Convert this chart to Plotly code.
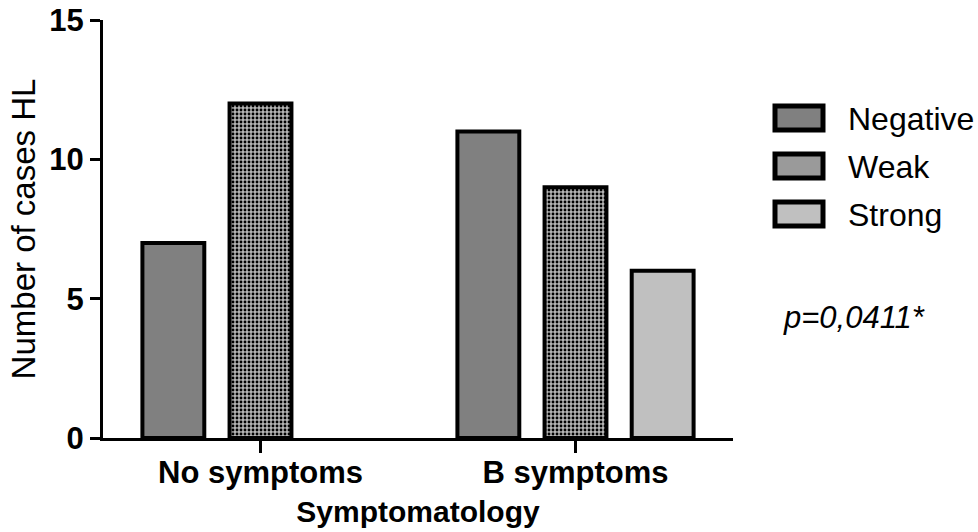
import plotly.graph_objects as go

categories = ["No symptoms", "B symptoms"]
series_names = ["Negative", "Weak", "Strong"]
negative = [7, 11]
weak = [12, 9]
strong = [None, 6]
y_ticks = [0, 5, 10, 15]
p_text = "p=0,0411*"

FONT = "Liberation Sans, Arial, sans-serif"
W, H = 978, 532
L, R, T, B = 103, 245, 20, 94
PW, PH = W - L - R, H - T - B


def px_x(px):
    return (px - L) / PW


def px_y(py):
    return (H - B - py) / PH


neg_color = "#808080"
strong_color = "#c0c0c0"
weak_bg = "#b4b4b4"
weak_pattern = dict(shape=".", fgcolor="black", bgcolor=weak_bg,
                    size=4, solidity=0.4, fillmode="replace")

fig = go.Figure()
fig.add_trace(go.Bar(
    name=series_names[0], x=categories, y=negative,
    marker=dict(color=neg_color, line=dict(color="black", width=4)),
))
fig.add_trace(go.Bar(
    name=series_names[1], x=categories, y=weak,
    marker=dict(color=weak_bg, line=dict(color="black", width=4), pattern=weak_pattern),
))
fig.add_trace(go.Bar(
    name=series_names[2], x=categories, y=strong,
    marker=dict(color=strong_color, line=dict(color="black", width=4)),
))

# manual legend (large swatches as in the reference)
swatch_fill = [neg_color, "#9a9a9a", strong_color]
for i, (name, fill) in enumerate(zip(series_names, swatch_fill)):
    cy = 118 + 48 * i
    fig.add_shape(type="rect", xref="paper", yref="paper",
                  x0=px_x(775), x1=px_x(823), y0=px_y(cy - 12), y1=px_y(cy + 12),
                  fillcolor=fill, line=dict(color="black", width=5))
    fig.add_annotation(text=name, xref="paper", yref="paper",
                       x=px_x(846), y=px_y(cy + 1), xanchor="left", yanchor="middle",
                       showarrow=False, font=dict(family=FONT, size=32, color="black"))

fig.add_annotation(
    text=p_text, xref="paper", yref="paper", x=px_x(781), y=px_y(317),
    xanchor="left", yanchor="middle", showarrow=False,
    font=dict(family=FONT, size=31, color="black", style="italic"),
)

fig.update_layout(
    width=W, height=H,
    margin=dict(l=L, r=R, t=T, b=B),
    paper_bgcolor="white", plot_bgcolor="white",
    barmode="group", bargap=0.17, bargroupgap=0.29,
    font=dict(family=FONT, color="black"),
    showlegend=False,
    xaxis=dict(
        range=[-0.5, 1.5], showline=True, linecolor="black", linewidth=3,
        ticks="outside", ticklen=12, tickwidth=3, tickcolor="black",
        tickfont=dict(size=31, family=FONT, weight="bold"), ticklabelstandoff=-7,
        title=dict(text="Symptomatology", font=dict(size=30, family=FONT, weight="bold"), standoff=12),
        showgrid=False, zeroline=False, automargin=False,
    ),
    yaxis=dict(
        range=[0, 15], tickvals=y_ticks, showline=True, linecolor="black", linewidth=3,
        ticks="outside", ticklen=10, tickwidth=3, tickcolor="black",
        tickfont=dict(size=31, family=FONT, weight="bold"),
        title=dict(text="Number of cases HL", font=dict(size=33, family=FONT), standoff=4),
        showgrid=False, zeroline=False, automargin=False,
    ),
)

fig.write_html(
    "out.html",
    config={"displayModeBar": False},
    post_script="document.body.style.margin='0';document.body.style.overflow='hidden';",
)
